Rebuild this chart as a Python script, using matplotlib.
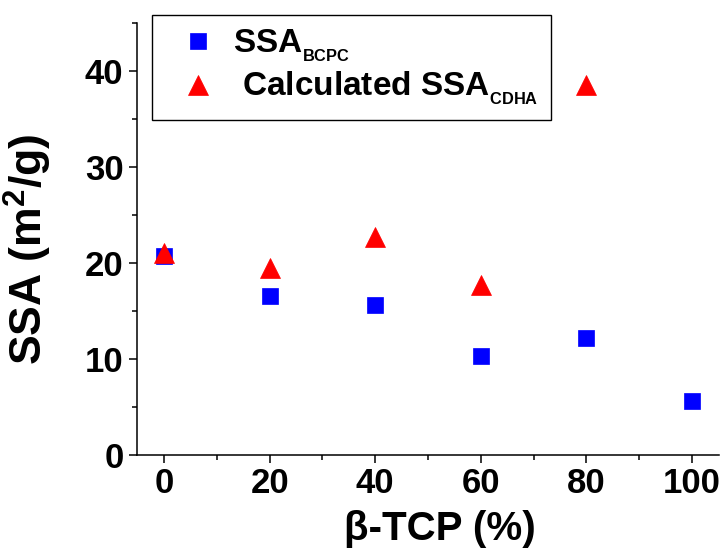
import matplotlib
matplotlib.use('Agg')
import matplotlib.pyplot as plt
from matplotlib.ticker import MultipleLocator

# data
tcp = [0, 20, 40, 60, 80, 100]
ssa_bcpc = [20.75, 16.55, 15.65, 10.35, 12.15, 5.65]
tcp_cdha = [0, 20, 40, 60, 80]
ssa_cdha = [21.0, 19.5, 22.7, 17.7, 38.5]

plt.rcParams['font.family'] = ['Liberation Sans', 'DejaVu Sans']
plt.rcParams['font.weight'] = 'bold'
plt.rcParams['mathtext.fontset'] = 'custom'
plt.rcParams['mathtext.rm'] = 'Liberation Sans:bold'
plt.rcParams['mathtext.it'] = 'Liberation Sans:bold'
plt.rcParams['mathtext.bf'] = 'Liberation Sans:bold'

fig = plt.figure(figsize=(7.26, 5.5), dpi=100)
ax = fig.add_axes([0.1887, 0.1727, 0.8017, 0.7855])

ax.plot(tcp, ssa_bcpc, 's', color='#0000FF', ms=11, mec='#0000FF', mew=0.5,
        label=r'SSA$_{_{\rm BCPC}}$', clip_on=False)
ax.plot(tcp_cdha, ssa_cdha, '^', color='#FF0000', ms=14.5, mec='#FF0000', mew=0.5,
        label=r' Calculated SSA$_{_{\rm CDHA}}$', clip_on=False)

ax.set_xlim(-5.1, 105.1)
ax.set_ylim(0, 45)
ax.xaxis.set_major_locator(MultipleLocator(20))
ax.xaxis.set_minor_locator(MultipleLocator(10))
ax.yaxis.set_major_locator(MultipleLocator(10))
ax.yaxis.set_minor_locator(MultipleLocator(5))

for s in ['top', 'right']:
    ax.spines[s].set_visible(False)
for s in ['left', 'bottom']:
    ax.spines[s].set_linewidth(1.1)

ax.tick_params(which='major', direction='out', length=5.8, width=1.1, labelsize=25)
ax.tick_params(which='minor', direction='out', length=3.6, width=1.1)
ax.tick_params(axis='y', which='major', pad=4)
ax.tick_params(axis='x', which='major', pad=3)
for lab in ax.get_xticklabels() + ax.get_yticklabels():
    lab.set_fontweight('bold')

ax.set_ylabel(r'SSA (m$^2$/g)', fontsize=32, fontweight='bold')
ax.set_xlabel('β-TCP (%)', fontsize=29, fontweight='bold')
ax.yaxis.set_label_coords(-0.142, 0.475)
ax.xaxis.set_label_coords(0.52, -0.128)

leg = ax.legend(loc='upper left', bbox_to_anchor=(152 / 726, 1 - 14.7 / 550),
                bbox_transform=fig.transFigure, borderaxespad=0,
                fancybox=False, edgecolor='black', framealpha=1,
                prop={'family': 'Liberation Sans', 'weight': 'bold', 'size': 24},
                handlelength=2.0, handletextpad=0.05, borderpad=0.38,
                labelspacing=0.2, numpoints=1)
leg.get_frame().set_linewidth(1.0)

fig.savefig('out.png', dpi=100)
